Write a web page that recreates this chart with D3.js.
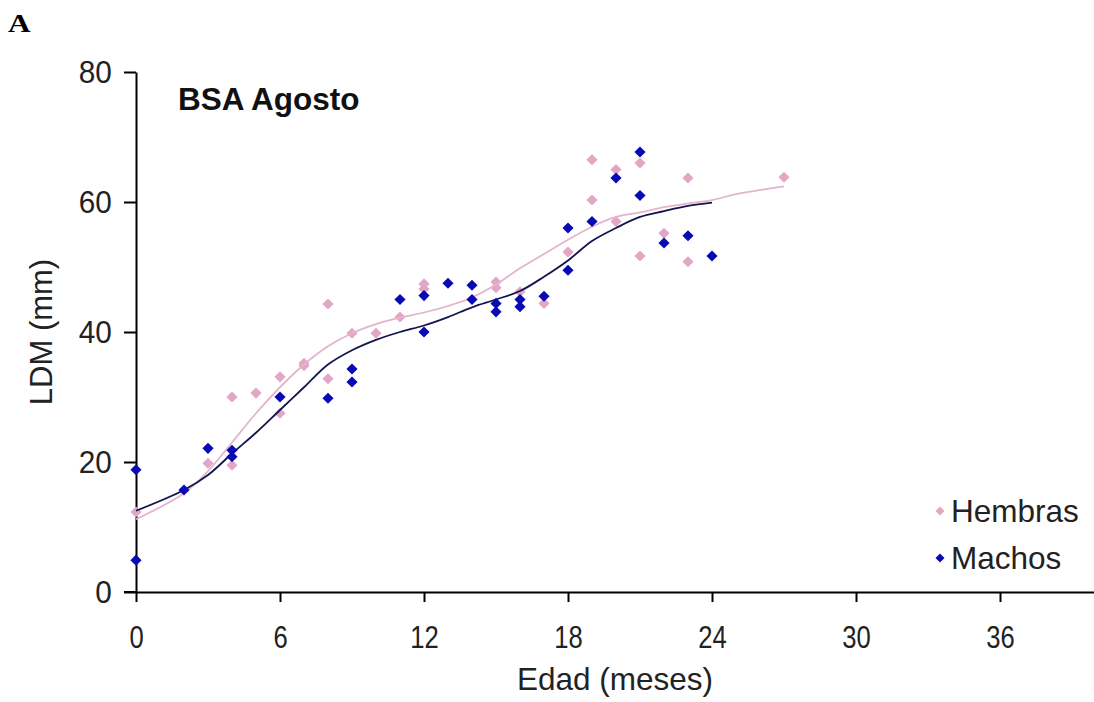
<!DOCTYPE html>
<html>
<head>
<meta charset="utf-8">
<script src="https://cdn.jsdelivr.net/npm/d3@7"></script>
<style>
  body { margin: 0; background: #fff; }
  text { font-family: Arial, "Liberation Sans", sans-serif; }
</style>
</head>
<body>
<div class="container"></div>
<script>
// Hembras (females) - age in months, LDM in mm
const hembrasEdad = [0, 3, 4, 4, 5, 6, 6, 7, 7, 8, 8, 9, 10, 11, 12, 12, 15, 15, 16, 17, 18, 19, 19, 20, 20, 21, 21, 22, 23, 23, 27];
const hembrasLDM  = [12.3, 19.8, 19.5, 30.0, 30.6, 33.1, 27.5, 35.2, 34.8, 44.3, 32.8, 39.8, 39.8, 42.3, 47.4, 46.6, 47.7, 46.8, 46.2, 44.4, 52.3, 66.5, 60.3, 65.0, 57.0, 66.0, 51.7, 55.2, 63.7, 50.8, 63.8];

// Machos (males)
const machosEdad = [0, 0, 2, 3, 4, 4, 6, 8, 9, 9, 11, 12, 12, 13, 14, 14, 15, 15, 16, 16, 17, 18, 18, 19, 20, 21, 21, 22, 23, 24];
const machosLDM  = [18.8, 4.9, 15.7, 22.1, 21.8, 20.8, 30.0, 29.8, 34.3, 32.3, 45.0, 45.6, 40.0, 47.5, 47.2, 45.0, 44.4, 43.1, 45.0, 43.9, 45.5, 56.0, 49.5, 57.0, 63.7, 67.7, 61.0, 53.7, 54.8, 51.7];

// smoothed growth curves
const curvaHEdad = [0, 2, 3, 4, 5, 6, 7, 8, 9, 10, 11, 12, 13, 14, 15, 16, 17, 18, 19, 20, 21, 22, 23, 24, 25, 27];
const curvaHLDM  = [11.2, 15.2, 18.6, 23.0, 27.5, 31.5, 35.0, 37.8, 39.8, 41.2, 42.2, 43.0, 44.0, 45.3, 47.3, 49.8, 52.0, 54.2, 56.2, 57.7, 58.4, 59.2, 59.8, 60.3, 61.2, 62.4];
const curvaMEdad = [0, 2, 3, 4, 5, 6, 7, 8, 9, 10, 11, 12, 13, 14, 15, 16, 17, 18, 19, 20, 21, 22, 23, 24];
const curvaMLDM  = [12.5, 15.7, 18.0, 21.3, 24.5, 28.0, 31.5, 35.0, 37.2, 38.8, 40.0, 41.0, 42.3, 43.8, 45.0, 46.3, 48.5, 51.0, 54.0, 56.0, 57.7, 58.6, 59.4, 59.9];

const xTicks = [0, 6, 12, 18, 24, 30, 36];
const yTicks = [0, 20, 40, 60, 80];
const seriesNames = ["Hembras", "Machos"];

const colorH = "#e2a6c6";
const colorM = "#0a0ab4";

const svgWidth = 1094, svgHeight = 702;

const svg = d3.select(".container")
    .append("svg")
    .attr("width", svgWidth)
    .attr("height", svgHeight);

const x = d3.scaleLinear().domain([0, 40]).range([136, 1096]);
const y = d3.scaleLinear().domain([0, 80]).range([592, 72]);

// panel letter
svg.append("text")
    .attr("transform", "translate(8, 32) scale(1.2, 1)")
    .style("font-family", "'Liberation Serif', 'Times New Roman', serif")
    .style("font-weight", "bold")
    .style("font-size", "26px")
    .text("A");

// axes
const xAxis = svg.append("g")
    .attr("transform", `translate(0, ${y(0)})`)
    .call(d3.axisBottom(x).tickValues(xTicks).tickSize(10).tickSizeOuter(0));

const yAxis = svg.append("g")
    .attr("transform", `translate(${x(0)}, 0)`)
    .call(d3.axisLeft(y).tickValues(yTicks).tickSize(12).tickSizeOuter(0).tickPadding(14));

[xAxis, yAxis].forEach(g => {
    g.select(".domain").attr("stroke", "#000").attr("stroke-width", 2);
    g.selectAll(".tick line").attr("stroke", "#000").attr("stroke-width", 2);
    g.selectAll(".tick text")
        .attr("fill", "#222")
        .style("font-family", "Arial, 'Liberation Sans', sans-serif")
        .style("font-size", "32px");
});
// x tick labels are tall and narrow in the original
xAxis.selectAll(".tick text")
    .attr("y", 0)
    .attr("dy", 0)
    .attr("transform", "translate(0, 56) scale(0.8, 1)");
yAxis.selectAll(".tick text")
    .attr("transform", "scale(0.93, 1)");

// extend x axis line to the left to meet the y tick
xAxis.append("line")
    .attr("x1", x(0) - 12).attr("x2", x(0))
    .attr("stroke", "#000").attr("stroke-width", 2);

// axis titles
svg.append("text")
    .attr("x", 615)
    .attr("y", 690)
    .attr("text-anchor", "middle")
    .attr("fill", "#222")
    .style("font-size", "31.5px")
    .text("Edad (meses)");

svg.append("text")
    .attr("transform", `translate(52, ${y(40)}) rotate(-90)`)
    .attr("text-anchor", "middle")
    .attr("fill", "#222")
    .style("font-size", "31px")
    .text("LDM (mm)");

svg.append("text")
    .attr("x", 178)
    .attr("y", 110)
    .attr("fill", "#111")
    .style("font-weight", "bold")
    .style("font-size", "31.5px")
    .text("BSA Agosto");

const diamond = d3.symbol().type(d3.symbolSquare).size(62)();

function zip(a, b) { return a.map((v, i) => [v, b[i]]); }

// Hembras points
svg.append("g").selectAll("path")
    .data(zip(hembrasEdad, hembrasLDM))
    .enter()
    .append("path")
    .attr("d", diamond)
    .attr("transform", d => `translate(${x(d[0])}, ${y(d[1])}) rotate(45)`)
    .attr("fill", colorH);

// curves
const line = d3.line()
    .x(d => x(d[0]))
    .y(d => y(d[1]))
    .curve(d3.curveCatmullRom);

svg.append("path")
    .datum(zip(curvaHEdad, curvaHLDM))
    .attr("d", line)
    .attr("fill", "none")
    .attr("stroke", "#e4b4cc")
    .attr("stroke-width", 1.8);

svg.append("path")
    .datum(zip(curvaMEdad, curvaMLDM))
    .attr("d", line)
    .attr("fill", "none")
    .attr("stroke", "#141450")
    .attr("stroke-width", 1.8);

// Machos points
svg.append("g").selectAll("path")
    .data(zip(machosEdad, machosLDM))
    .enter()
    .append("path")
    .attr("d", diamond)
    .attr("transform", d => `translate(${x(d[0])}, ${y(d[1])}) rotate(45)`)
    .attr("fill", colorM);

// legend
const legend = svg.append("g").attr("transform", "translate(940, 511)");
const small = d3.symbol().type(d3.symbolSquare).size(40)();
seriesNames.forEach((name, i) => {
    const row = legend.append("g").attr("transform", `translate(0, ${i * 47})`);
    row.append("path")
        .attr("d", small)
        .attr("transform", "rotate(45)")
        .attr("fill", i === 0 ? colorH : colorM);
    row.append("text")
        .attr("x", 11)
        .attr("y", 11)
        .attr("fill", "#222")
        .style("font-size", "31.5px")
        .text(name);
});
</script>
</body>
</html>
